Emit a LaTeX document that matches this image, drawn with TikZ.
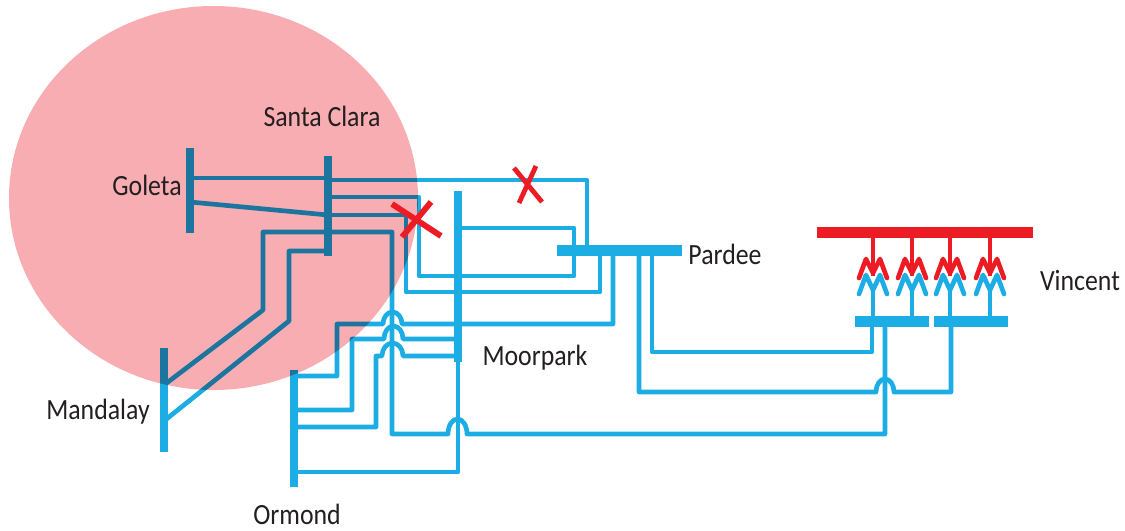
\documentclass[tikz,border=0pt]{standalone}
\usepackage{fontspec}
\setmainfont[FakeStretch=0.88]{Carlito}
\definecolor{netBlue}{HTML}{1CADE4}
\definecolor{zoneRed}{HTML}{F8ADB2}
\definecolor{faultRed}{HTML}{ED1C24}
\definecolor{labelDark}{HTML}{231F20}
\usetikzlibrary{positioning,calc}
\tikzset{
  busnode/.style={fill=#1, inner sep=0pt, outer sep=0pt},
  busnode/.default=netBlue,
  netline/.style={draw=netBlue, line width=3.5pt, line join=round},
  faultmark/.style={draw=faultRed, line width=4.4pt},
  sitelabel/.style={font=\fontsize{22}{25}\selectfont, text=labelDark, inner sep=0pt},
}
\newcommand{\hoparc}[2]{arc[start angle=180,end angle=360,x radius=#1,y radius=#2]}
\newcommand{\hopback}[2]{arc[start angle=0,end angle=-180,x radius=#1,y radius=#2]}
\begin{document}
\begin{tikzpicture}[x=0.75pt,y=-0.75pt]
\useasboundingbox (0,0) rectangle (1125,531);
% buses
\node[busnode, minimum width=6pt, minimum height=63.75pt] (goleta) at (190,190.5) {};
\node[busnode, minimum width=6pt, minimum height=75pt] (santaclara) at (328,206) {};
\node[busnode, minimum width=6pt, minimum height=78pt] (mandalay) at (164,400) {};
\node[busnode, minimum width=6pt, minimum height=87.75pt] (ormond) at (294,428.5) {};
\node[busnode, minimum width=6pt, minimum height=128.25pt] (moorpark) at (458,276.5) {};
\node[busnode, minimum width=93.75pt, minimum height=8.25pt] (pardee) at (619.5,250.5) {};
\node[busnode=faultRed, minimum width=162pt, minimum height=8.25pt] (vincenttop) at (925,232.5) {};
\node[busnode, minimum width=55.5pt, minimum height=8.25pt] (vincentl) at (892,321.5) {};
\node[busnode, minimum width=55.5pt, minimum height=8.25pt] (vincentr) at (971,321.5) {};
% lines leaving the western buses
\draw[netline] (goleta |- 0,178) -- (santaclara |- 0,178);
\draw[netline] (santaclara |- 0,180) -- (587,180) -- (587,0 |- pardee);
\draw[netline] (goleta |- 0,202) -- (santaclara |- 0,215);
\draw[netline] (santaclara |- 0,215) -- (406,215) -- (406,292) -- (600,292) -- (600,0 |- pardee);
\draw[netline] (santaclara |- 0,197) -- (419,197) -- (419,276) -- (574,276) -- (574,228) -- (moorpark |- 0,228);
\draw[netline] (santaclara |- 0,232) -- (263,232) -- (263,310) -- (mandalay |- 0,385);
\draw[netline] (santaclara |- 0,251) -- (289,251) -- (289,321) -- (mandalay |- 0,421);
\draw[netline] (santaclara |- 0,232) -- (392,232) -- (392,434) -- (448,434) \hoparc{9.5}{15} -- (885,434) -- (885,0 |- vincentl);
% lines into Ormond
\draw[netline] (613,0 |- pardee) -- (613,324) -- (402,324) \hopback{9.5}{12} -- (337,324) -- (337,376) -- (ormond |- 0,376);
\draw[netline] (moorpark |- 0,339) -- (403,339) \hopback{9.5}{13} -- (352,339) -- (352,410) -- (ormond |- 0,410);
\draw[netline] (moorpark |- 0,356) -- (403,356) \hopback{10.5}{13} -- (376,356) -- (376,427) -- (ormond |- 0,427);
\draw[netline] (ormond |- 0,472) -- (458,472) -- (moorpark);
% lines into Vincent
\draw[netline] (652,0 |- pardee) -- (652,352) -- (872,352) -- (872,0 |- vincentl);
\draw[netline] (639,0 |- pardee) -- (639,392) -- (876,392) \hoparc{9}{13} -- (951,392) -- (951,0 |- vincentr);
\foreach \vx/\vbus [count=\vi] in {873/vincentl,912/vincentl,950/vincentr,990/vincentr}{
  \coordinate (redtip\vi) at (\vx,276);
  \coordinate (bluetip\vi) at (\vx,290);
  \draw[line width=3pt, draw=faultRed] (redtip\vi |- vincenttop) -- (redtip\vi);
  \draw[netline] (bluetip\vi) -- (bluetip\vi |- \vbus);
  \draw[netline, line cap=round] ($(bluetip\vi)+(-14,4)$) -- ++(7,-19) -- (bluetip\vi) -- ++(7,-15) -- ++(7,19);
  \draw[faultmark, line width=3.5pt, line cap=round, line join=round] ($(redtip\vi)+(-14,2)$) -- ++(7,-19) -- ($(redtip\vi)+(0,-3)$) -- ++(7,-14) -- ++(7,19);
}
% affected zone
\begin{scope}[blend mode=multiply]
\fill[zoneRed] (213.5,198) ellipse [x radius=204.5, y radius=192];
\end{scope}
% outages
\draw[faultmark] (392,204) -- (441,236);
\draw[faultmark] (431,202) -- (402,237);
\draw[faultmark, line width=3.6pt] (514,168) -- (542,202);
\draw[faultmark, line width=3.6pt] (536,166) -- (519,203);
% names
\node[sitelabel] (lblsanta) at (322,116) {Santa Clara};
\node[sitelabel] (lblgoleta) at (147,185) {Goleta};
\node[sitelabel] (lblmandalay) at (98,412) {Mandalay};
\node[sitelabel] (lblormond) at (297,514) {Ormond};
\node[sitelabel] (lblmoorpark) at (535,358) {Moorpark};
\node[sitelabel] (lblpardee) at (725,254) {Pardee};
\node[sitelabel] (lblvincent) at (1080,281) {Vincent};
\end{tikzpicture}
\end{document}
